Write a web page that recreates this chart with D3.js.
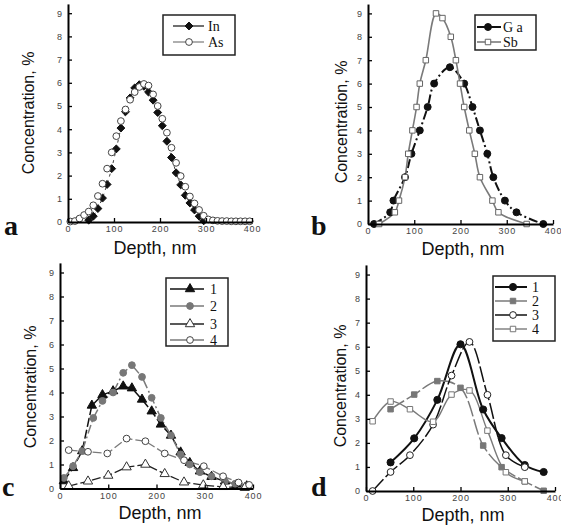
<!DOCTYPE html>
<html lang="en">
<head>
<meta charset="utf-8">
<title>Depth profiles</title>
<script src="https://d3js.org/d3.v7.min.js"></script>
<style>
  body { margin: 0; background: #fff; }
  svg { display: block; }
  .tick text { font-family: Arial, "Liberation Sans", sans-serif; fill: #444; }
</style>
</head>
<body>
<script>
// ---- data ----
// panel a
var aInDepth = [45,55,65,75,85,95,105,115,125,135,145,155,165,175,185,195,205,215,225,235,245,255,265,275,285,295];
var aIn      = [0.08,0.25,0.58,1.03,1.62,2.3,3.15,4.05,4.75,5.35,5.78,5.92,5.85,5.6,5.25,4.72,4.15,3.48,2.78,2.12,1.6,1.15,0.82,0.52,0.25,0.05];
var aAsDepth = [5,15,25,35,45,55,65,75,85,95,105,115,125,135,145,155,165,175,185,195,205,215,225,235,245,255,265,275,285,295,305,315,325,335,345,355,365,375,385,395];
var aAs      = [0.02,0.04,0.15,0.3,0.45,0.72,1.12,1.65,2.3,3.0,3.7,4.35,4.85,5.27,5.6,5.82,5.95,5.88,5.5,5.0,4.45,3.85,3.2,2.55,1.98,1.52,1.1,0.8,0.52,0.27,0.11,0.07,0.05,0.04,0.04,0.03,0.03,0.03,0.03,0.03];

// panel b
var bGaDepth = [13,48,55,80,94,112,129,143,177,208,226,242,258,271,296,321,379];
var bGa      = [0,0.5,1,2,3,4,5,6,6.7,6,5,4,3,2,1,0.5,0];
var bSbDepth = [24,58,67,80,87,96,105,112,125,147,161,179,190,199,208,219,231,242,269,282,343];
var bSb      = [0,0.5,1,2,3,4,5,6,7,9,8.8,8,7,6,5,4,3,2,1,0.5,0];

// panel c
var c1Depth = [8,27,46,66,88,110,131,149,170,190,209,230,250,269,290,314,342,366,387];
var c1Val   = [0.31,0.86,1.56,3.46,3.9,4.06,4.26,4.18,3.71,3.22,2.67,2.21,1.51,1.07,0.72,0.49,0.3,0.17,0.1];
var c2Depth = [8,27,46,69,88,110,131,149,170,190,209,230,250,269,290,314,342,363,387];
var c2Val   = [0.44,0.93,1.56,2.94,3.65,4.0,4.82,5.14,4.65,3.78,2.94,2.21,1.42,1.0,0.68,0.51,0.3,0.2,0.1];
var c3Depth = [18,58,100,138,177,217,257,297,338,383];
var c3Val   = [0.1,0.3,0.54,0.89,1.0,0.61,0.26,0.14,0.07,0.03];
var c4Depth = [18,58,98,138,177,217,257,298,338,370,392];
var c4Val   = [1.6,1.53,1.46,2.08,1.97,1.46,1.18,0.93,0.51,0.25,0.15];

// panel d
var dd1Depth = [52,102,151,200,248,287,336,376];
var dd1Val   = [1.19,2.19,3.79,6.1,3.39,2.2,1.08,0.79];
var dd2Depth = [52,102,151,200,248,287,336,376];
var dd2Val   = [3.4,4.01,4.57,4.29,1.89,0.99,0.4,0.01];
var dd3Depth = [14,52,93,142,181,219,257,296,336];
var dd3Val   = [0,0.79,1.49,2.76,4.8,6.2,4.0,1.49,0.99];
var dd4Depth = [14,52,93,142,181,219,257,296,336];
var dd4Val   = [2.9,3.72,3.4,2.88,4.01,4.18,2.51,0.78,0.4];

var xTicks = [0,100,200,300,400];
var yTicks = [0,1,2,3,4,5,6,7,8,9];

function zip(xs, ys) { return xs.map(function(v, i) { return [v, ys[i]]; }); }

var svg = d3.select("body").append("svg").attr("width", 561).attr("height", 526);

var gray = "#7a7a7a";
var diamond = d3.symbolDiamond2 || d3.symbolDiamond;

var panels = [
  { letter: "a", lx: 4, ly: 235, x0: 68, x1: 252, y0: 222, unit: 23.2,
    ytx: 34, yty: 113, dtx: 155, dty: 254,
    leg: { x: 163, y: 15, w: 72, h: 40, rows: [26, 42], l0: 173, l1: 204, m: 189, t: 208 },
    series: [
      { name: "In", data: zip(aInDepth, aIn), sym: diamond, size: 40, fill: "#111", stroke: "#111", line: "#111", lw: 0.8, dash: "3,4", curve: d3.curveLinear },
      { name: "As", data: zip(aAsDepth, aAs), sym: d3.symbolCircle, size: 36, fill: "#fff", stroke: "#444", line: null, legLine: gray }
    ] },
  { letter: "b", lx: 311, ly: 235, x0: 368, x1: 553, y0: 224, unit: 23.4,
    ytx: 347, yty: 122, dtx: 463, dty: 255,
    leg: { x: 475, y: 15, w: 61, h: 35, rows: [27, 42], l0: 477, l1: 501, m: 488, t: 503 },
    series: [
      { name: "G a", data: zip(bGaDepth, bGa), sym: d3.symbolCircle, size: 38, fill: "#111", stroke: "#111", line: "#111", lw: 2, dash: "9,3,2,3", curve: d3.curveCatmullRom },
      { name: "Sb", data: zip(bSbDepth, bSb), sym: d3.symbolSquare, size: 30, fill: "#fff", stroke: "#666", line: gray, lw: 1.6, dash: null, curve: d3.curveCatmullRom }
    ] },
  { letter: "c", lx: 2, ly: 496, x0: 60, x1: 253, y0: 488.5, unit: 24,
    ytx: 36, yty: 387, dtx: 160, dty: 519,
    leg: { x: 166, y: 278, w: 62, h: 68, rows: [289, 306, 324, 340], l0: 170, l1: 204, m: 190, t: 210 },
    series: [
      { name: "1", data: zip(c1Depth, c1Val), sym: d3.symbolTriangle, size: 38, fill: "#111", stroke: "#111", line: "#111", lw: 1.5, dash: "9,3", curve: d3.curveLinear },
      { name: "2", data: zip(c2Depth, c2Val), sym: d3.symbolCircle, size: 36, fill: "#777", stroke: "#777", line: gray, lw: 1.5, dash: "9,3,2,3", curve: d3.curveLinear },
      { name: "3", data: zip(c3Depth, c3Val), sym: d3.symbolTriangle, size: 38, fill: "#fff", stroke: "#333", line: "#222", lw: 1.3, dash: "9,3", curve: d3.curveLinear },
      { name: "4", data: zip(c4Depth, c4Val), sym: d3.symbolCircle, size: 36, fill: "#fff", stroke: "#444", line: gray, lw: 1.3, dash: "9,3", curve: d3.curveLinear }
    ] },
  { letter: "d", lx: 311, ly: 496, x0: 366, x1: 555, y0: 491, unit: 24.05,
    ytx: 346, yty: 386, dtx: 463, dty: 521,
    leg: { x: 493, y: 276, w: 62, h: 65, rows: [287, 301, 315, 329], l0: 495, l1: 527, m: 513, t: 532 },
    series: [
      { name: "1", data: zip(dd1Depth, dd1Val), sym: d3.symbolCircle, size: 40, fill: "#111", stroke: "#111", line: "#111", lw: 2, dash: null, curve: d3.curveCatmullRom },
      { name: "2", data: zip(dd2Depth, dd2Val), sym: d3.symbolSquare, size: 30, fill: "#777", stroke: "#777", line: gray, lw: 1.5, dash: "16,3", curve: d3.curveCatmullRom },
      { name: "3", data: zip(dd3Depth, dd3Val), sym: d3.symbolCircle, size: 36, fill: "#fff", stroke: "#222", line: "#111", lw: 1.5, dash: "16,3", curve: d3.curveCatmullRom },
      { name: "4", data: zip(dd4Depth, dd4Val), sym: d3.symbolSquare, size: 30, fill: "#fff", stroke: "#777", line: gray, lw: 1.4, dash: null, curve: d3.curveCatmullRom }
    ] }
];

panels.forEach(function(p) {
  var g = svg.append("g");

  var x = d3.scaleLinear().domain([0, 400]).range([p.x0, p.x1]);
  var y = d3.scaleLinear().domain([0, 9.4]).range([p.y0, p.y0 - 9.4 * p.unit]);

  // series lines first, markers on top
  p.series.forEach(function(s) {
    if (!s.line) return;
    var line = d3.line()
      .x(function(d) { return x(d[0]); })
      .y(function(d) { return y(d[1]); })
      .curve(s.curve);
    g.append("path")
      .datum(s.data)
      .attr("d", line)
      .attr("fill", "none")
      .attr("stroke", s.line)
      .attr("stroke-width", s.lw)
      .attr("stroke-dasharray", s.dash);
  });

  p.series.forEach(function(s) {
    g.selectAll(null)
      .data(s.data)
      .enter()
      .append("path")
      .attr("d", d3.symbol().type(s.sym).size(s.size))
      .attr("transform", function(d) { return "translate(" + x(d[0]) + "," + y(d[1]) + ")"; })
      .attr("fill", s.fill)
      .attr("stroke", s.stroke)
      .attr("stroke-width", 1);
  });

  // axes, ticks pointing inward
  var xAxis = g.append("g")
    .attr("transform", "translate(0," + p.y0 + ")")
    .call(d3.axisBottom(x).tickValues(xTicks).tickSize(-4).tickSizeOuter(0).tickPadding(4));
  var yAxis = g.append("g")
    .attr("transform", "translate(" + p.x0 + ",0)")
    .call(d3.axisLeft(y).tickValues(yTicks).tickSize(-4).tickSizeOuter(0).tickPadding(6));

  xAxis.select(".domain").attr("stroke", "#000").attr("stroke-width", 2);
  yAxis.select(".domain").attr("stroke", "#000").attr("stroke-width", 2);
  g.selectAll(".tick line").attr("stroke", "#000").attr("stroke-width", 1.3);
  xAxis.selectAll("text").attr("font-size", 9).attr("letter-spacing", 0.8);
  yAxis.selectAll("text").attr("font-size", 9);

  // axis titles
  g.append("text")
    .attr("transform", "translate(" + p.ytx + "," + p.yty + ") rotate(-90)")
    .attr("text-anchor", "middle")
    .attr("font-family", "Arial, 'Liberation Sans', sans-serif")
    .attr("font-size", 16)
    .attr("fill", "#111")
    .text("Concentration, %");
  g.append("text")
    .attr("x", p.dtx)
    .attr("y", p.dty)
    .attr("text-anchor", "middle")
    .attr("font-family", "Arial, 'Liberation Sans', sans-serif")
    .attr("font-size", 18)
    .attr("fill", "#111")
    .text("Depth, nm");

  // panel letter
  g.append("text")
    .attr("x", p.lx)
    .attr("y", p.ly)
    .attr("font-family", "'Liberation Serif', 'DejaVu Serif', serif")
    .attr("font-weight", "bold")
    .attr("font-size", 28)
    .attr("fill", "#111")
    .text(p.letter);

  // legend box
  var L = p.leg;
  g.append("rect")
    .attr("x", L.x).attr("y", L.y)
    .attr("width", L.w).attr("height", L.h)
    .attr("fill", "#fff")
    .attr("stroke", "#222")
    .attr("stroke-width", 1.5);
  p.series.forEach(function(s, i) {
    var ry = L.rows[i];
    g.append("line")
      .attr("x1", L.l0).attr("x2", L.l1)
      .attr("y1", ry).attr("y2", ry)
      .attr("stroke", s.legLine || s.line)
      .attr("stroke-width", Math.max(1.2, s.lw || 1.2));
    g.append("path")
      .attr("d", d3.symbol().type(s.sym).size(s.size)())
      .attr("transform", "translate(" + L.m + "," + ry + ")")
      .attr("fill", s.fill)
      .attr("stroke", s.stroke);
    g.append("text")
      .attr("x", L.t)
      .attr("y", ry + 5)
      .attr("font-family", "'Liberation Serif', 'DejaVu Serif', serif")
      .attr("font-size", 14)
      .attr("fill", "#111")
      .text(s.name);
  });
});
</script>
</body>
</html>
